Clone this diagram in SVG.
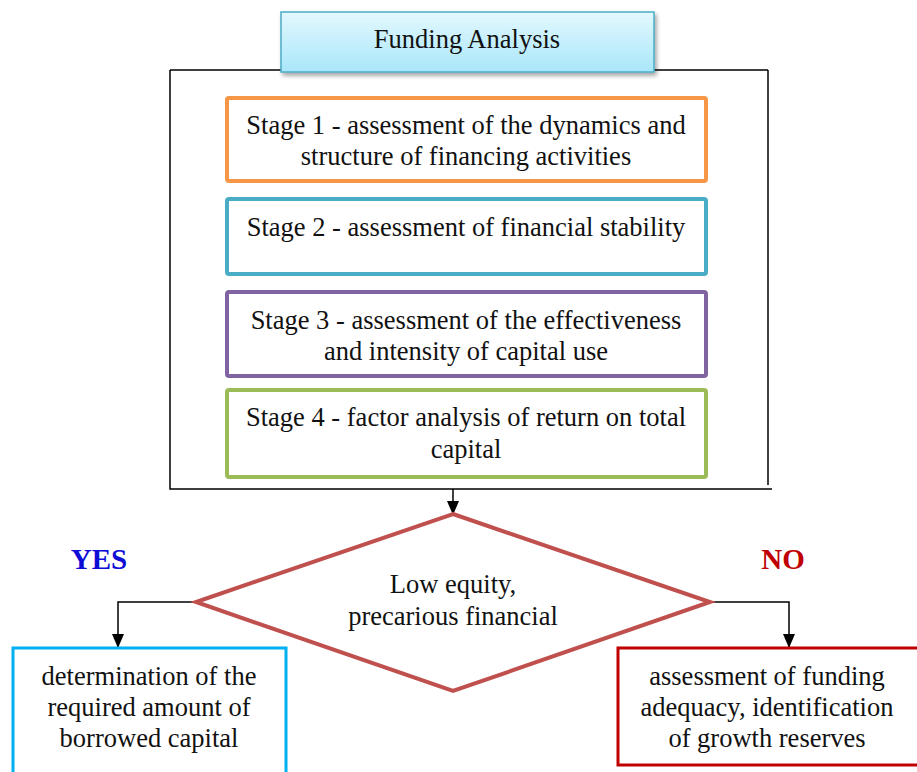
<svg xmlns="http://www.w3.org/2000/svg" width="917" height="772" viewBox="0 0 917 772">
<defs>
<linearGradient id="hdr" x1="0" y1="0" x2="0" y2="1">
<stop offset="0" stop-color="#e3f8fe"/>
<stop offset="1" stop-color="#a9e7fa"/>
</linearGradient>
<filter id="sh" x="-10%" y="-20%" width="120%" height="160%">
<feDropShadow dx="2" dy="3" stdDeviation="2" flood-color="#000" flood-opacity="0.35"/>
</filter>
<marker id="arr" markerWidth="14" markerHeight="12" refX="13" refY="6" orient="auto" markerUnits="userSpaceOnUse" viewBox="0 0 14 12">
<path d="M0,0 L14,6 L0,12 Z" fill="#000"/>
</marker>
</defs>
<style>
text{font-family:"Liberation Serif","Times New Roman",serif;font-size:26.5px;fill:#111;text-anchor:middle}
.stage{fill:#fff;stroke-width:4}
.conn{fill:none;stroke:#000;stroke-width:1.5}
.lbl{font-weight:bold;font-size:29px}
</style>
<rect width="917" height="772" fill="#fff"/>
<g id="frame">
<path d="M170,70 L768,70 M170,70 L170,489 L772,489 M768,70 L768,485" fill="none" stroke="#000" stroke-width="1.5"/>
</g>
<g id="header">
<rect x="281" y="12" width="373" height="60" fill="url(#hdr)" stroke="#4bacc6" stroke-width="1.5" filter="url(#sh)"/>
<text x="467" y="48">Funding Analysis</text>
</g>
<g id="stage1">
<rect class="stage" x="227" y="98" width="479" height="83" rx="2" stroke="#f79646"/>
<text x="466" y="134">Stage 1 - assessment of the dynamics and</text>
<text x="466" y="165">structure of financing activities</text>
</g>
<g id="stage2">
<rect class="stage" x="227" y="199" width="479" height="75" rx="2" stroke="#4bacc6"/>
<text x="466" y="236">Stage 2 - assessment of financial stability</text>
</g>
<g id="stage3">
<rect class="stage" x="227" y="292" width="479" height="84" rx="2" stroke="#8064a2"/>
<text x="466" y="329">Stage 3 - assessment of the effectiveness</text>
<text x="466" y="360">and intensity of capital use</text>
</g>
<g id="stage4">
<rect class="stage" x="227" y="390" width="479" height="87" rx="2" stroke="#9bbb59"/>
<text x="466" y="426">Stage 4 - factor analysis of return on total</text>
<text x="466" y="458">capital</text>
</g>
<g id="connectors">
<path class="conn" d="M453,489 L453,514" marker-end="url(#arr)"/>
<path class="conn" d="M196,602 L118,602 L118,647" marker-end="url(#arr)"/>
<path class="conn" d="M710,602 L789,602 L789,647" marker-end="url(#arr)"/>
</g>
<g id="decision">
<polygon points="453,514 710,602 453,691 196,602" fill="#fff" stroke="#c0504d" stroke-width="4" stroke-linejoin="miter"/>
<text x="453" y="593">Low equity,</text>
<text x="453" y="625">precarious financial</text>
</g>
<g id="yes-label"><text class="lbl" x="99" y="569" style="fill:#0d0dd6">YES</text></g>
<g id="no-label"><text class="lbl" x="783" y="569" style="fill:#c00000">NO</text></g>
<g id="yes-box">
<rect x="13" y="648" width="273" height="130" fill="#fff" stroke="#00b0f0" stroke-width="3"/>
<text x="149" y="685">determination of the</text>
<text x="149" y="716">required amount of</text>
<text x="149" y="747">borrowed capital</text>
</g>
<g id="no-box">
<rect x="618" y="648" width="305" height="117" fill="#fff" stroke="#c00000" stroke-width="3"/>
<text x="767" y="685">assessment of funding</text>
<text x="767" y="716">adequacy, identification</text>
<text x="767" y="747">of growth reserves</text>
</g>
</svg>
